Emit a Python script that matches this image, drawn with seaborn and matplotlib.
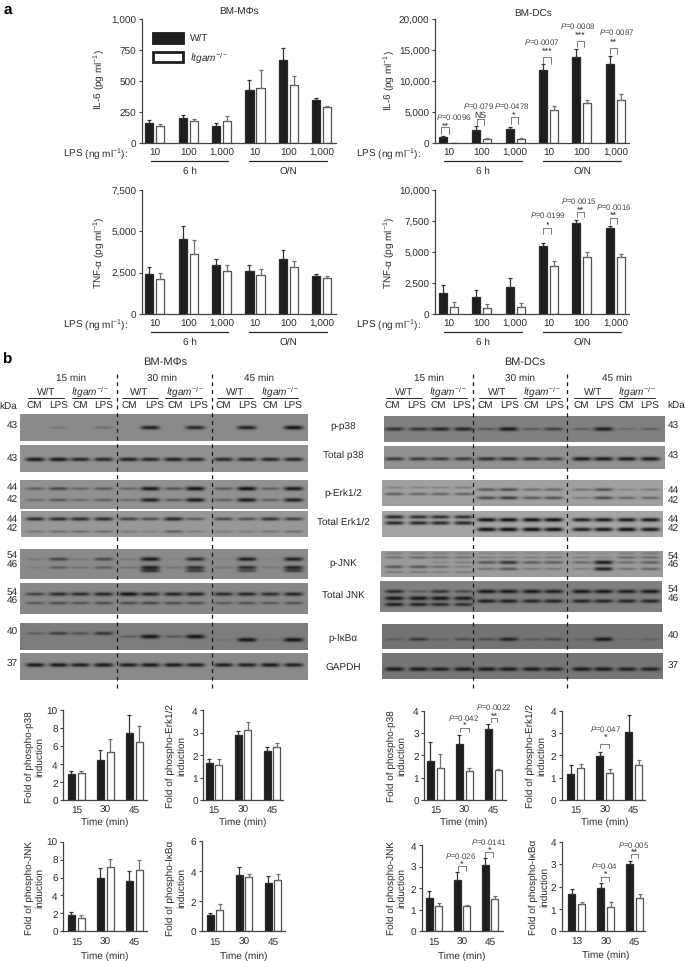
import numpy as np
import pandas as pd
import seaborn as sns
import matplotlib.pyplot as plt
from matplotlib.patches import Rectangle

# ----------------------------
# Bar data: panel a
# ----------------------------
lps_labels = ["10", "100", "1,000", "10", "100", "1,000"]

il6_mac_wt = [160, 200, 140, 430, 670, 345]
il6_mac_ko = [140, 175, 175, 445, 470, 290]
il6_mac_wt_top = [182, 225, 158, 505, 765, 360]
il6_mac_ko_top = [150, 195, 215, 590, 540, 297]

il6_dc_wt = [1000, 2150, 2200, 11700, 13900, 12700]
il6_dc_ko = [40, 600, 700, 5300, 6400, 7000]
il6_dc_wt_top = [1150, 2750, 2650, 12700, 15100, 14000]
il6_dc_ko_top = [50, 750, 850, 5950, 7000, 7900]

tnf_mac_wt = [2410, 4500, 2950, 2600, 3300, 2280]
tnf_mac_ko = [2100, 3650, 2600, 2350, 2820, 2180]
tnf_mac_wt_top = [2830, 5320, 3330, 2930, 3870, 2400]
tnf_mac_ko_top = [2500, 4450, 2940, 2720, 3170, 2320]

tnf_dc_wt = [1700, 1400, 2150, 5500, 7350, 6950]
tnf_dc_ko = [600, 500, 550, 3850, 4600, 4550]
tnf_dc_wt_top = [2300, 1950, 2880, 5680, 7550, 7100]
tnf_dc_ko_top = [950, 770, 850, 4300, 4950, 4850]

# ----------------------------
# Bar data: panel b quantification
# ----------------------------
time_labels = ["15", "30", "45"]
time_labels_typo = ["13", "30", "45"]

mac_p38_wt, mac_p38_ko = [2.85, 4.5, 7.45], [3.0, 5.3, 6.5]
mac_p38_wt_top, mac_p38_ko_top = [3.25, 5.55, 9.45], [3.25, 6.75, 8.3]
mac_erk_wt, mac_erk_ko = [1.65, 2.9, 2.2], [1.55, 3.1, 2.35]
mac_erk_wt_top, mac_erk_ko_top = [1.82, 3.08, 2.35], [1.83, 3.5, 2.53]
mac_jnk_wt, mac_jnk_ko = [1.85, 5.9, 5.6], [1.45, 7.2, 6.8]
mac_jnk_wt_top, mac_jnk_ko_top = [2.2, 7.05, 6.7], [1.85, 8.05, 7.95]
mac_ikb_wt, mac_ikb_ko = [1.1, 3.75, 3.25], [1.4, 3.6, 3.45]
mac_ikb_wt_top, mac_ikb_ko_top = [1.2, 4.3, 3.7], [1.8, 3.85, 3.8]

dc_p38_wt, dc_p38_ko = [1.75, 2.53, 3.17], [1.45, 1.28, 1.35]
dc_p38_wt_top, dc_p38_ko_top = [2.58, 2.92, 3.42], [2.08, 1.42, 1.4]
dc_erk_wt, dc_erk_ko = [1.18, 1.97, 3.05], [1.42, 1.22, 1.57]
dc_erk_wt_top, dc_erk_ko_top = [1.55, 2.17, 3.82], [1.6, 1.38, 1.78]
dc_jnk_wt, dc_jnk_ko = [1.55, 2.4, 3.05], [1.15, 1.18, 1.5]
dc_jnk_wt_top, dc_jnk_ko_top = [1.85, 2.73, 3.42], [1.3, 1.2, 1.62]
dc_ikb_wt, dc_ikb_ko = [1.65, 1.95, 3.0], [1.22, 1.08, 1.47]
dc_ikb_wt_top, dc_ikb_ko_top = [1.88, 2.17, 3.15], [1.3, 1.3, 1.67]

# ----------------------------
# Blot band strengths (one list per band row, 12 lanes)
# ----------------------------
l_pp38 = [[0, .15, 0, .25, 0, .9, 0, .85, 0, .9, 0, 1]]
l_tp38 = [[.95, .95, .85, .85, .9, .85, .9, .85, .85, .85, .85, .85]]
l_perk = [[.4, .6, .35, .45, .35, .95, .5, 1, .45, 1, .4, .95],
          [.3, .45, .3, .4, .3, .9, .45, .95, .4, .95, .4, .9]]
l_terk = [[.8, .8, .8, .8, .65, .55, .85, .45, .6, .55, .75, .65],
          [.25, .3, .3, .3, .2, .15, .4, .2, .2, .2, .25, .3]]
l_pjnk = [[.15, .6, .15, .55, .15, .95, .05, .8, .05, .9, .05, .9],
          [.1, .4, .2, .4, .2, .9, .2, .75, .2, .8, .15, .85],
          [0, 0, 0, 0, 0, .7, 0, .6, 0, .5, 0, .6]]
l_tjnk = [[.6, .8, .8, .85, 1, .85, .85, .85, .8, .85, .8, .85],
          [.4, .5, .45, .5, .5, .55, .5, .5, .4, .45, .4, .45]]
l_pikb = [[.3, .6, .4, .7, 0, 0, 0, 0, 0, 0, 0, 0],
          [0, 0, 0, 0, .3, 1, .35, 1, 0, 0, 0, 0],
          [0, 0, 0, 0, 0, 0, 0, 0, .1, 1, .15, 1]]
l_gapdh = [[.95, .95, .9, .95, .9, .95, .95, .9, .9, .9, .95, .9]]

r_pp38 = [[.75, .7, .85, .85, .4, .95, .35, .6, .3, .9, .2, .3]]
r_tp38 = [[.7, .7, .7, .7, .8, .8, .75, .7, .95, .95, .95, .95]]
r_perk = [[.2, .2, .2, .25, 0, 0, 0, 0, 0, 0, 0, 0],
          [0, 0, 0, 0, .5, .6, .35, .4, .3, .55, .2, .25],
          [.45, .4, .4, .4, 0, 0, 0, 0, 0, 0, 0, 0],
          [0, 0, 0, 0, .6, .7, .5, .55, .25, .6, .4, .4]]
r_terk = [[.85, .8, .8, .8, 0, 0, 0, 0, 0, 0, 0, 0],
          [0, 0, 0, 0, 1, 1, 1, 1, .9, .95, .95, .95],
          [.85, .85, .85, .85, 0, 0, 0, 0, 0, 0, 0, 0],
          [0, 0, 0, 0, 1, 1, 1, 1, .9, .95, 1, .95]]
r_pjnk = [[.2, .2, .2, .2, .15, .15, .15, .15, .15, .1, .2, .25],
          [.3, .35, .3, .3, .2, .2, .2, .25, .2, .15, .35, .35],
          [0, 0, .15, .2, .5, .75, .45, .45, .35, .95, .35, .45],
          [.5, .5, .35, .2, 0, 0, 0, 0, 0, 0, 0, 0],
          [0, 0, 0, 0, .3, .5, .25, .25, .2, .9, .3, .4],
          [.25, .25, .2, .2, 0, 0, 0, 0, 0, 0, 0, 0]]
r_tjnk = [[.8, .35, .7, .5, .95, .95, .95, .9, .95, .95, .9, .95],
          [1, 1, 1, .95, 0, 0, 0, 0, 0, 0, 0, 0],
          [0, 0, 0, 0, .9, .9, .85, .85, .85, .85, .85, .85],
          [.9, .85, .8, .75, 0, 0, 0, 0, 0, 0, 0, 0]]
r_pikb = [[.25, .65, .2, .4, .4, .85, .3, .45, .2, .95, .1, .2]]
r_gapdh = [[.95, .95, .9, .95, .95, .95, .95, .9, .95, .95, .9, .9]]

# ----------------------------
# Style + page helpers (everything placed in reference pixels)
# ----------------------------
W, H = 685, 962
INK = "#2a2a2a"

sns.set_theme(style="ticks")
plt.rcParams["font.family"] = ["Liberation Sans", "DejaVu Sans"]
plt.rcParams["mathtext.fontset"] = "custom"
plt.rcParams["mathtext.rm"] = "Liberation Sans"
plt.rcParams["mathtext.it"] = "Liberation Sans:italic"
plt.rcParams["mathtext.bf"] = "Liberation Sans:bold"
plt.rcParams["mathtext.default"] = "regular"
plt.rcParams["text.hinting"] = "no_hinting"

fig = plt.figure(figsize=(W / 100, H / 100), dpi=100, facecolor="white")

ov = fig.add_axes([0, 0, 1, 1], zorder=20)
ov.set_xlim(0, W)
ov.set_ylim(H, 0)
ov.axis("off")


def page_text(x, y, s, size=7.2, color=INK, ha="center", **kw):
    ov.text(x, y, s, fontsize=size, color=color, ha=ha, va="center", **kw)


def px_axes(x0, x1, ytop, ybot):
    return fig.add_axes([x0 / W, 1 - ybot / H, (x1 - x0) / W, (ybot - ytop) / H])


def bar_panel(box, centre0, step, wt, ko, wt_top, ko_top, ylim, yticks, yfmt, xlabels, bar_w=0.66, bar_gap=0.27):
    ax = px_axes(*box)
    n = len(wt)
    df = pd.DataFrame({
        "group": list(range(n)) * 2,
        "value": wt + ko,
        "geno": ["W/T"] * n + ["KO"] * n,
    })
    sns.barplot(data=df, x="group", y="value", hue="geno", hue_order=["W/T", "KO"],
                palette=["#1f1d1e", "white"], width=bar_w, gap=bar_gap, errorbar=None,
                legend=False, ax=ax, edgecolor="#2a2a2a", linewidth=0.9, saturation=1)
    for bar in ax.containers[1]:
        bar.set_edgecolor("#505050")
    for cont, top, col in zip(ax.containers, (wt_top, ko_top), ("#333333", "#707070")):
        for bar, t in zip(cont, top):
            xc = bar.get_x() + bar.get_width() / 2
            v = bar.get_height()
            ax.errorbar(xc, v, yerr=[[0], [t - v]], color=col, lw=0.9, capsize=1.7, capthick=0.9, zorder=1)
    ax.set_xlim((box[0] - centre0) / step, (box[1] - centre0) / step)
    ax.set_ylim(*ylim)
    ax.set_yticks(yticks)
    ax.set_yticklabels([yfmt(t) for t in yticks])
    ax.set_xticks(range(n))
    ax.set_xticklabels(xlabels)
    ax.set_xlabel("")
    ax.set_ylabel("")
    ax.tick_params(axis="x", length=0, pad=3.5, labelsize=7.2, labelcolor=INK)
    ax.tick_params(axis="y", length=2.5, width=0.8, pad=1.5, labelsize=7.2, labelcolor=INK, color="#444444")
    ax.patch.set_alpha(0)
    sns.despine(ax=ax)
    for side in ("left", "bottom"):
        ax.spines[side].set_linewidth(0.9)
        ax.spines[side].set_color("#444444")
    return ax


def blot(box, background, rows, bands, lanes):
    x0, x1, ytop, ybot = box
    scale = 2
    ny, nx = int((ybot - ytop) * scale), int((x1 - x0) * scale)
    xx = (np.arange(nx) + 0.5) / scale + x0
    yy = (np.arange(ny) + 0.5) / scale
    img = np.full((ny, nx), float(background))
    for row, strengths in zip(rows, bands):
        for c, s in zip(lanes, strengths):
            if s <= 0:
                continue
            prof_x = np.exp(-((xx - c) / 9.6) ** 4)
            prof_y = np.exp(-((yy - row * (ybot - ytop)) / (1.1 + 1.0 * s)) ** 2)
            img -= s * (background - 22) * np.outer(prof_y, prof_x)
    ax = px_axes(*box)
    sns.heatmap(np.clip(img, 15, 255), cmap="gray", vmin=0, vmax=255, cbar=False,
                xticklabels=False, yticklabels=False, ax=ax)


def sig_marks(items):
    # x-left, x-right, bracket top, bracket bottom, P x, P y, star y, P text, star text
    for xa, xb, yt, yb, px, py, sy, ptxt, star in items:
        ov.plot([xa, xa, xb, xb], [yb, yt, yt, yb], color="#666666", lw=0.6)
        page_text(px, py - 0.8, ptxt, size=5.7, color="#444444")
        page_text(sy[0], sy[1] + 0.4, star, size=6.2 if star == "NS" else 6.6)


thousands = lambda t: f"{t:,}"
plain = lambda t: f"{t}"
P = r"$\mathit{P}$="

# ----------------------------
# Panel a
# ----------------------------
bar_panel((142, 336, 20, 144), 154.8, 33.4, il6_mac_wt, il6_mac_ko, il6_mac_wt_top, il6_mac_ko_top,
          (0, 1000), [0, 250, 500, 750, 1000], thousands, lps_labels)
bar_panel((435, 629, 20, 144), 448.3, 33.4, il6_dc_wt, il6_dc_ko, il6_dc_wt_top, il6_dc_ko_top,
          (0, 20000), [0, 5000, 10000, 15000, 20000], thousands, lps_labels)
bar_panel((142, 336, 190.7, 315), 154.8, 33.4, tnf_mac_wt, tnf_mac_ko, tnf_mac_wt_top, tnf_mac_ko_top,
          (0, 7500), [0, 2500, 5000, 7500], thousands, lps_labels)
bar_panel((435, 629, 190.7, 315), 448.3, 33.4, tnf_dc_wt, tnf_dc_ko, tnf_dc_wt_top, tnf_dc_ko_top,
          (0, 10000), [0, 2500, 5000, 7500, 10000], thousands, lps_labels)

page_text(8, 10, "a", size=11, ha="center", weight="bold", color="black")
page_text(8, 360, "b", size=11, ha="center", weight="bold", color="black")
page_text(239, 12, "BM-M\u03a6s", size=7.2)
page_text(533, 14, "BM-DCs", size=7.2)

il6_label = "IL-6 (pg ml$^{-1}$)"
tnf_label = "TNF-\u03b1 (pg ml$^{-1}$)"
page_text(99, 80, il6_label, rotation=90)
page_text(389, 81, il6_label, rotation=90)
page_text(99, 253, tnf_label, rotation=90)
page_text(389, 253, tnf_label, rotation=90)

for x_right, line_a, line_b in ((128, (151, 228), (249, 327)), (421, (444, 522), (543, 621))):
    for y_tick in (154, 325):
        page_text(x_right, y_tick, "LPS (ng ml$^{-1}$):", ha="right")
        ov.plot(line_a, [y_tick + 8.3] * 2, color=INK, lw=0.9)
        ov.plot(line_b, [y_tick + 8.3] * 2, color=INK, lw=0.9)
        page_text(sum(line_a) / 2, y_tick + 17, "6 h")
        page_text(sum(line_b) / 2, y_tick + 17, "O/N")

# legend
ov.add_patch(Rectangle((152, 33), 32, 12, fc="#1f1d1e", ec="#1f1d1e", lw=0.6))
ov.add_patch(Rectangle((153, 53), 30, 9.5, fc="white", ec="#1f1d1e", lw=2))
page_text(190, 38.7, "W/T", ha="left")
page_text(190, 58, r"$\mathit{Itgam}^{-/-}$", ha="left")

z = lambda v: 340 + v / 3
sig_marks([
    (z(303), z(327), 385 / 3, 405 / 3, z(340), 355 / 3, (z(316), 378 / 3), P + "0.0096", "**"),
    (z(410), z(432), 360 / 3, 378 / 3, z(415), 320 / 3, (z(422), 346 / 3), P + "0.079", "NS"),
    (z(512), z(534), 355 / 3, 375 / 3, z(516), 320 / 3, (z(522), 345 / 3), P + "0.0478", "*"),
    (z(610), z(633), 175 / 3, 195 / 3, z(606), 128 / 3, (z(622), 155 / 3), P + "0.0007", "***"),
    (z(710), z(733), 126 / 3, 145 / 3, z(712), 80 / 3, (z(722), 107 / 3), P + "0.0008", "***"),
    (z(810), z(832), 146 / 3, 165 / 3, z(830), 98 / 3, (z(820), 126 / 3), P + "0.0087", "**"),
    (z(610), z(633), 180 + 147 / 3, 180 + 165 / 3, z(623), 180 + 107 / 3, (z(622), 180 + 137 / 3), P + "0.0199", "*"),
    (z(710), z(733), 180 + 98 / 3, 180 + 115 / 3, z(715), 180 + 65 / 3, (z(722), 180 + 92 / 3), P + "0.0015", "**"),
    (z(810), z(832), 180 + 117 / 3, 180 + 135 / 3, z(820), 180 + 85 / 3, (z(820), 180 + 107 / 3), P + "0.0016", "**"),
])

# ----------------------------
# Panel b: blots
# ----------------------------
lanes_l = [v / 3 for v in (105, 175, 240, 310, 385, 450, 520, 585, 670, 740, 810, 880)]
lanes_r = [340 + v / 3 for v in (163, 235, 300, 370, 440, 505, 575, 640, 725, 790, 860, 930)]

blot((20, 308, 415, 441.7), 138, [.5], l_pp38, lanes_l)
blot((20, 308, 446, 472.7), 145, [.53], l_tp38, lanes_l)
blot((20, 308, 481, 510), 145, [.29, .68], l_perk, lanes_l)
blot((21, 308, 512.3, 538), 152, [.3, .79], l_terk, lanes_l)
blot((20, 308, 550, 580), 138, [.33, .61, .72], l_pjnk, lanes_l)
blot((20, 308, 584, 615), 135, [.35, .64], l_tjnk, lanes_l)
blot((20, 308, 624, 650.7), 125, [.38, .5, .62], l_pikb, lanes_l)
blot((20, 308, 654, 680.7), 138, [.44], l_gapdh, lanes_l)

blot((384, 665, 416.7, 443.3), 128, [.5], r_pp38, lanes_r)
blot((384, 665, 447, 470), 145, [.55], r_tp38, lanes_r)
blot((382, 663, 481, 507), 160, [.28, .36, .53, .68], r_perk, lanes_r)
blot((382, 663, 512, 538), 165, [.22, .33, .45, .7], r_terk, lanes_r)
blot((381, 663, 552, 578), 155, [.08, .24, .43, .6, .68, .8], r_pjnk, lanes_r)
blot((380, 662, 582, 613), 128, [.33, .55, .64, .75], r_tjnk, lanes_r)
blot((382, 663, 625, 650), 115, [.6], r_pikb, lanes_r)
blot((382, 663, 654, 680), 118, [.61], r_gapdh, lanes_r)

for x_dash in (116.7, 212, 473, 567):
    ov.plot([x_dash, x_dash], [375, 692], color="#1a1a1a", lw=0.9, ls=(0, (3.2, 3)))

itgam = r"$\mathit{Itgam}^{-/-}$"
page_text(165, 362, "BM-M\u03a6s", size=8)
page_text(525, 362, "BM-DCs", size=7.8)
for x, s in ((71, "15 min"), (162, "30 min"), (259, "45 min"), (429, "15 min"), (520, "30 min"), (617, "45 min")):
    page_text(x, 378, s)
for x, s in ((46, "W/T"), (90, itgam), (139, "W/T"), (185, itgam), (235, "W/T"), (280, itgam),
             (404, "W/T"), (448, itgam), (497, "W/T"), (542, itgam), (593, "W/T"), (637, itgam)):
    page_text(x, 392, s)
for xa, xb in ((27.7, 64), (72, 110), (122, 158), (165, 202), (217, 253), (261, 298),
               (385.7, 422), (430.7, 466.7), (479, 515.7), (523, 560), (574, 612), (619, 655)):
    ov.plot([xa, xb], [398.5, 398.5], color=INK, lw=0.7)
lane_heads = ["CM", "LPS"] * 6
for x, s in zip((103, 177, 240, 310, 387, 463, 527, 597, 670, 743, 810, 878), lane_heads):
    page_text(x / 3, 406.7, s)
for x, s in zip((157, 230, 295, 365, 437, 510, 575, 645, 723, 795, 860, 930), lane_heads):
    page_text(340 + x / 3, 406.7, s)
page_text(8.7, 406.7, "kDa")
page_text(676, 405, "kDa")

for y, s in ((426, "43"), (459, "43"), (487.7, "44"), (499, "42"), (519, "44"), (528, "42"),
             (555.7, "54"), (565, "46"), (592, "54"), (601, "46"), (632, "40"), (664, "37")):
    page_text(12, y, s)
for y, s in ((426, "43"), (456, "43"), (490, "44"), (500, "42"), (519, "44"), (528, "42"),
             (556, "54"), (565.7, "46"), (589, "54"), (599, "46"), (636, "40"), (666, "37")):
    page_text(673, y, s)
for y, s in ((427, "p-p38"), (455, "Total p38"), (493, "p-Erk1/2"), (522, "Total Erk1/2"),
             (563, "p-JNK"), (595, "Total JNK"), (638, "p-I\u03baB\u03b1"), (668, "GAPDH")):
    page_text(343, y, s)

# ----------------------------
# Panel b: quantification
# ----------------------------
narrow = dict(bar_w=0.676, bar_gap=0.3)
y2 = [0, 2, 4, 6, 8, 10]
y4 = [0, 1, 2, 3, 4]
bar_panel((63.3, 146.7, 711.3, 801), 76.3, 29, mac_p38_wt, mac_p38_ko, mac_p38_wt_top, mac_p38_ko_top,
          (0, 10), y2, plain, time_labels, **narrow)
bar_panel((203.3, 282.7, 711.3, 801), 214, 29, mac_erk_wt, mac_erk_ko, mac_erk_wt_top, mac_erk_ko_top,
          (0, 4), y4, plain, time_labels, **narrow)
bar_panel((63.3, 146.7, 842.7, 932.3), 76.3, 29, mac_jnk_wt, mac_jnk_ko, mac_jnk_wt_top, mac_jnk_ko_top,
          (0, 10), y2, plain, time_labels, **narrow)
bar_panel((201.7, 285, 842.3, 932.3), 215, 29, mac_ikb_wt, mac_ikb_ko, mac_ikb_wt_top, mac_ikb_ko_top,
          (0, 6), [0, 2, 4, 6], plain, time_labels, **narrow)

bar_panel((424.3, 506, 711.7, 801), 435.3, 29, dc_p38_wt, dc_p38_ko, dc_p38_wt_top, dc_p38_ko_top,
          (0, 4), y4, plain, time_labels, **narrow)
bar_panel((561.7, 645, 711.7, 801), 575.7, 29, dc_erk_wt, dc_erk_ko, dc_erk_wt_top, dc_erk_ko_top,
          (0, 4), y4, plain, time_labels, **narrow)
bar_panel((421.7, 503, 846, 932.3), 434, 28, dc_jnk_wt, dc_jnk_ko, dc_jnk_wt_top, dc_jnk_ko_top,
          (0, 4), y4, plain, time_labels, **narrow)
bar_panel((561.7, 645, 842.7, 932.3), 576.7, 29, dc_ikb_wt, dc_ikb_ko, dc_ikb_wt_top, dc_ikb_ko_top,
          (0, 4), y4, plain, time_labels_typo, **narrow)

for x, y, s in ((105, 822.7, "Time (min)"), (243, 822.7, "Time (min)"), (105, 956, "Time (min)"), (244, 956, "Time (min)"),
                (464, 822.7, "Time (min)"), (604.7, 822.7, "Time (min)"), (461.7, 956, "Time (min)"), (605.7, 955, "Time (min)")):
    page_text(x, y, s)

fold = "Fold of phospho-{}\ninduction"
for x, y, tgt in ((34.5, 756.7, "p38"), (176, 756, "Erk1/2"), (34.5, 888, "JNK"), (176, 888, "I\u03baB\u03b1"),
                  (396.7, 756, "p38"), (536, 756, "Erk1/2"), (396.7, 888, "JNK"), (539, 887, "I\u03baB\u03b1")):
    ov.text(x, y, fold.format(tgt), fontsize=7.2, color=INK, rotation=90, ha="center", va="center",
            multialignment="center", linespacing=1.15)

b = lambda v: 690 + v / 3
sig_marks([
    (z(360), z(386), b(118), b(130), z(370), b(87), (z(374), b(107)), P + "0.042", "*"),
    (z(452), z(472), b(87), b(100), z(462), b(55), (z(462), b(78)), P + "0.0022", "**"),
    (z(780), z(806), b(165), b(178), z(796), b(120), (z(796), b(143)), P + "0.047", "*"),
    (z(353), z(378), b(532), b(545), z(363), b(502), (z(366), b(522)), P + "0.026", "*"),
    (z(436), z(460), b(488), b(503), z(445), b(460), (z(449), b(480)), P + "0.0141", "*"),
    (z(783), z(808), b(563), b(577), z(794), b(532), (z(797), b(552)), P + "0.04", "*"),
    (z(873), z(895), b(496), b(508), z(880), b(467), (z(884), b(488)), P + "0.005", "**"),
])

ov.set_xlim(0, W)
ov.set_ylim(H, 0)
fig.savefig("out.png", dpi=100, facecolor="white")
plt.close(fig)
